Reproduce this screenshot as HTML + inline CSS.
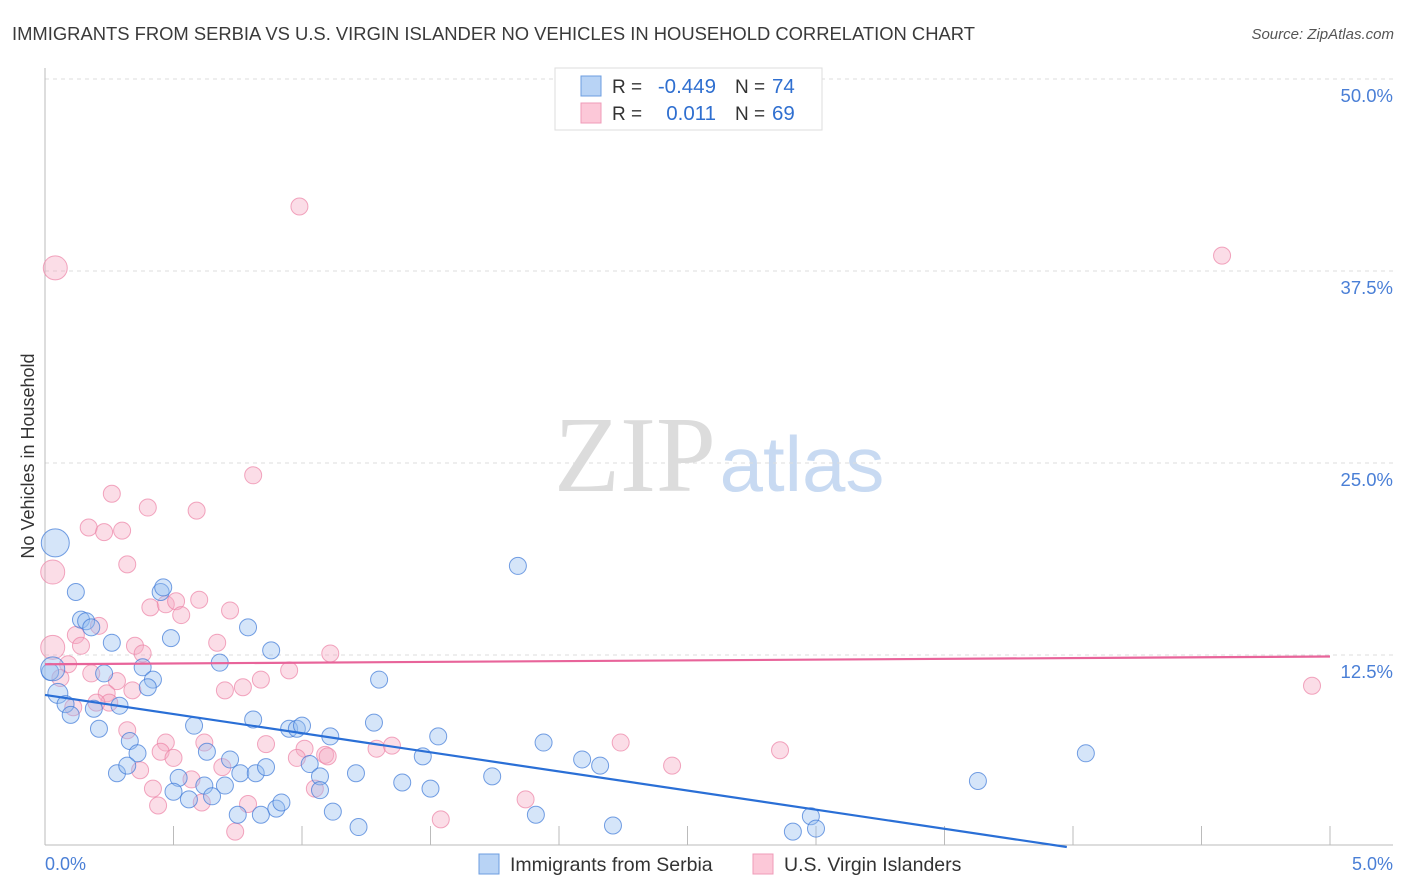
<!DOCTYPE html>
<html><head><meta charset="utf-8"><style>
body{margin:0;background:#fff;font-family:"Liberation Sans",sans-serif;}
#wrap{position:relative;width:1406px;height:892px;overflow:hidden;}
</style></head><body>
<div id="wrap">
<svg id="svg" width="1406" height="892"></svg>
</div>
<script>
const blueX=[.04,.12,.14,.16,.18,.26,.49,.45,.46,.79,.88,.68,.38,.23,.02,.42,.40,1.30,.05,.08,.10,.19,.29,.21,.58,.81,.95,.98,1.00,1.11,1.28,1.53,1.84,1.94,.33,.36,.63,.72,.76,.82,.86,1.03,1.07,1.21,1.47,1.74,2.09,2.16,4.05,3.63,.28,.32,.52,.50,.56,.62,.65,.70,.75,.84,.90,.92,1.07,1.12,1.22,1.39,1.50,1.91,2.21,2.98,3.00,2.91,.03];
const blueY=[19.8,16.6,14.8,14.7,14.3,13.3,13.6,16.6,16.9,14.3,12.8,12.0,11.7,11.3,11.4,10.9,10.4,10.9,10.0,9.3,8.6,9.0,9.2,7.7,7.9,8.3,7.7,7.7,7.9,7.2,8.1,7.2,18.3,6.8,6.9,6.1,6.2,5.7,4.8,4.8,5.2,5.4,4.6,4.8,5.9,4.6,5.7,5.3,6.1,4.3,4.8,5.3,4.5,3.6,3.1,4.0,3.3,4.0,2.1,2.1,2.5,2.9,3.7,2.3,1.3,4.2,3.8,2.1,1.4,2.0,1.2,1.0,11.6];
const blueR=[14,8.5,8.5,8.5,8.5,8.5,8.5,8.5,8.5,8.5,8.5,8.5,8.5,8.5,8.5,8.5,8.5,8.5,10,8.5,8.5,8.5,8.5,8.5,8.5,8.5,8.5,8.5,8.5,8.5,8.5,8.5,8.5,8.5,8.5,8.5,8.5,8.5,8.5,8.5,8.5,8.5,8.5,8.5,8.5,8.5,8.5,8.5,8.5,8.5,8.5,8.5,8.5,8.5,8.5,8.5,8.5,8.5,8.5,8.5,8.5,8.5,8.5,8.5,8.5,8.5,8.5,8.5,8.5,8.5,8.5,8.5,12];
const pinkX=[.04,.99,4.58,.81,.26,.40,.59,.17,.23,.30,.03,.32,.41,.47,.51,.53,.60,.72,.21,.12,.14,.03,.35,.38,.67,1.11,.09,.18,.28,.06,.34,.24,.25,.20,.11,.95,.70,.77,.84,.32,.47,.45,.50,.62,.37,.69,.86,.57,.42,.44,.61,.79,.74,1.01,.98,1.09,1.10,1.05,1.29,1.35,1.54,1.87,2.24,2.44,2.86,4.93];
const pinkY=[37.7,41.7,38.5,24.2,23.0,22.1,21.9,20.8,20.5,20.6,17.9,18.4,15.6,15.8,16.0,15.1,16.1,15.4,14.4,13.8,13.1,13.0,13.1,12.6,13.3,12.6,11.9,11.3,10.8,11.0,10.2,10.0,9.4,9.4,9.1,11.5,10.2,10.4,10.9,7.6,6.8,6.2,5.8,6.8,5.0,5.2,6.7,4.4,3.8,2.7,2.9,2.8,1.0,6.4,5.8,6.0,5.9,3.8,6.4,6.6,1.8,3.1,6.8,5.3,6.3,10.5];
const pinkR=[12,8.5,8.5,8.5,8.5,8.5,8.5,8.5,8.5,8.5,12,8.5,8.5,8.5,8.5,8.5,8.5,8.5,8.5,8.5,8.5,12,8.5,8.5,8.5,8.5,8.5,8.5,8.5,8.5,8.5,8.5,8.5,8.5,8.5,8.5,8.5,8.5,8.5,8.5,8.5,8.5,8.5,8.5,8.5,8.5,8.5,8.5,8.5,8.5,8.5,8.5,8.5,8.5,8.5,8.5,8.5,8.5,8.5,8.5,8.5,8.5,8.5,8.5,8.5,8.5];
const yTicks=[12.5,25,37.5,50];
const yTickLabels=["12.5%","25.0%","37.5%","50.0%"];
const xTicks=[0,.5,1,1.5,2,2.5,3,3.5,4,4.5,5];
const blueTrend=[9.9,-2.49];
const pinkTrend=[11.9,0.1];

const NS="http://www.w3.org/2000/svg";
const svg=document.getElementById('svg');
const X0=45,X1=1330,Y0=847;
const sx=v=>X0+v*(X1-X0)/5;
const sy=v=>Y0-v*192/12.5;
function mk(t,a,parent){const e=document.createElementNS(NS,t);for(const k in a)e.setAttribute(k,a[k]);(parent||svg).appendChild(e);return e;}
function txt(s,a){const e=mk('text',a);e.textContent=s;return e;}

let e;
e=txt('IMMIGRANTS FROM SERBIA VS U.S. VIRGIN ISLANDER NO VEHICLES IN HOUSEHOLD CORRELATION CHART',{x:12,y:40,'font-size':18.4,fill:'#3a3a3a'});

e=txt('Source: ZipAtlas.com',{x:1394,y:39,'font-size':15,fill:'#555','font-style':'italic','text-anchor':'end'});


// watermark
e=txt('ZIP',{x:635,y:491,'font-size':108,fill:'#dcdcdc','font-family':'Liberation Serif, serif','text-anchor':'middle'});

e=txt('atlas',{x:802,y:491,'font-size':78,fill:'#c8daf2','text-anchor':'middle'});


// grid
yTicks.forEach((v,i)=>{
 const g=mk('line',{x1:X0,x2:1393,y1:sy(v),y2:sy(v),stroke:'#ddd','stroke-dasharray':'4,4'});
 
 const t=txt(yTickLabels[i],{x:1393,y:sy(v)+23,'font-size':18.5,fill:'#4a7fd6','text-anchor':'end'});
 
});
e=mk('line',{x1:X0,x2:X0,y1:68,y2:845,stroke:'#bbb'});

e=mk('line',{x1:X0,x2:1393,y1:845,y2:845,stroke:'#bbb'});

xTicks.forEach(v=>{if(v===0)return;const t=mk('line',{x1:sx(v),x2:sx(v),y1:826,y2:845,stroke:'#bbb'});
 });
e=txt('0.0%',{x:45,y:870,'font-size':18,fill:'#4a7fd6'});

e=txt('5.0%',{x:1393,y:870,'font-size':18,fill:'#4a7fd6','text-anchor':'end'});

e=txt('No Vehicles in Household',{x:0,y:0,'font-size':18,fill:'#333','text-anchor':'middle',transform:'translate(34,456) rotate(-90)'});


// points
pinkX.forEach((v,i)=>{const c=mk('circle',{cx:sx(v),cy:sy(pinkY[i]),r:pinkR[i],fill:'rgba(246,170,195,0.4)',stroke:'rgba(236,130,165,0.7)','stroke-width':1});
 });
blueX.forEach((v,i)=>{const c=mk('circle',{cx:sx(v),cy:sy(blueY[i]),r:blueR[i],fill:'rgba(150,190,240,0.4)',stroke:'rgba(60,120,215,0.7)','stroke-width':1});
 });

// trends
const bEnd=Math.min(5,-blueTrend[0]/blueTrend[1]);
e=mk('line',{x1:sx(0),y1:sy(blueTrend[0]),x2:sx(bEnd),y2:sy(blueTrend[0]+blueTrend[1]*bEnd),stroke:'#2a6fd6','stroke-width':2.2});

e=mk('line',{x1:sx(0),y1:sy(pinkTrend[0]),x2:sx(5),y2:sy(pinkTrend[0]+pinkTrend[1]*5),stroke:'#e8649a','stroke-width':2.2});


// legend box
e=mk('rect',{x:555,y:68,width:267,height:62,fill:'#fff',stroke:'#ddd'});

[[86,'#b8d3f5','#6c9ee0','-0.449','74'],[113,'#fcc8d8','#ef9bb8','0.011','69']].forEach((r,i)=>{
 const s=mk('rect',{x:581,y:r[0]-10,width:20,height:20,fill:r[1],stroke:r[2]});
 
 let t=txt('R = ',{x:612,y:r[0]+7,'font-size':19,fill:'#333'});
 t=txt(r[3],{x:716,y:r[0]+7,'font-size':20.5,fill:'#2f6fd0','text-anchor':'end'});
 t=txt('N = ',{x:735,y:r[0]+7,'font-size':19,fill:'#333'});
 t=txt(r[4],{x:772,y:r[0]+7,'font-size':20.5,fill:'#2f6fd0'});
});

// bottom legend
e=mk('rect',{x:479,y:854,width:20,height:20,fill:'#b8d3f5',stroke:'#6c9ee0'});

e=txt('Immigrants from Serbia',{x:510,y:871,'font-size':19.5,fill:'#333'});

e=mk('rect',{x:753,y:854,width:20,height:20,fill:'#fcc8d8',stroke:'#ef9bb8'});

e=txt('U.S. Virgin Islanders',{x:784,y:871,'font-size':19.5,fill:'#333'});

</script>
</body></html>
